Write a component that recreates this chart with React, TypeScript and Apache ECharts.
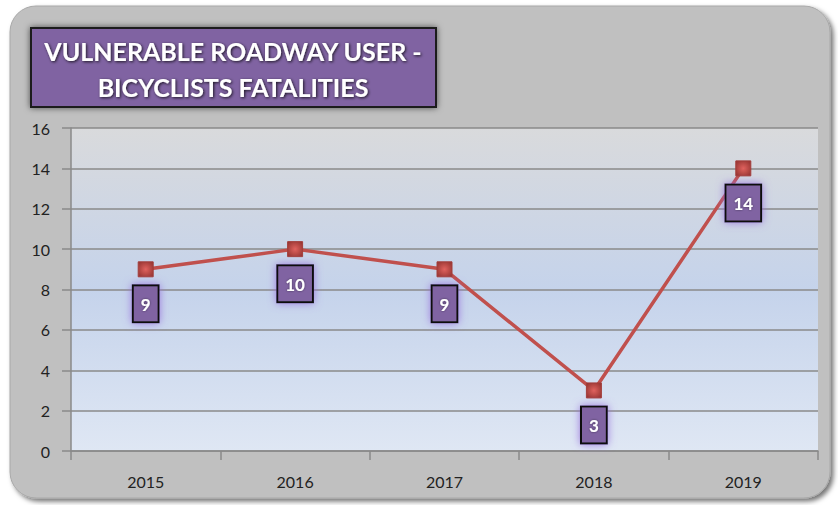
import React, { useEffect, useRef } from "react";
import * as echarts from "echarts";

const categories = ["2015", "2016", "2017", "2018", "2019"];
const fatalities = [9, 10, 9, 3, 14];
const yTicks = { min: 0, max: 16, interval: 2 };
const titleLines = ["VULNERABLE ROADWAY USER -", "BICYCLISTS FATALITIES"];

const FONT = "Lato, 'Noto Sans', sans-serif";

export default function App() {
  const ref = useRef<HTMLDivElement>(null);
  useEffect(() => {
    if (!ref.current) return;
    const chart = echarts.init(ref.current, null, { renderer: "svg" });
    const titleStyle = {
      fill: "#ffffff",
      font: `bold 25px ${FONT}`,
      align: "center",
      verticalAlign: "middle",
      textShadowColor: "rgba(0,0,0,0.8)",
      textShadowBlur: 3,
      textShadowOffsetX: 1,
      textShadowOffsetY: 1,
    };
    chart.setOption({
      animation: false,
      backgroundColor: "#ffffff",
      graphic: [
        {
          type: "rect",
          z: -10,
          shape: { x: 10, y: 6, width: 820, height: 492, r: 26 },
          style: {
            fill: "#c0c0c0",
            stroke: "#a8a8a8",
            lineWidth: 1,
            shadowBlur: 5,
            shadowOffsetX: 3,
            shadowOffsetY: 3,
            shadowColor: "rgba(0,0,0,0.55)",
          },
        },
        {
          type: "rect",
          z: 10,
          shape: { x: 31, y: 28, width: 405, height: 79 },
          style: {
            fill: "#8064a2",
            stroke: "#1a1a1a",
            lineWidth: 2,
            shadowBlur: 6,
            shadowColor: "rgba(0,0,0,0.6)",
          },
        },
        {
          type: "text",
          z: 11,
          x: 233,
          y: 51,
          style: { ...titleStyle, text: titleLines[0] },
        },
        {
          type: "text",
          z: 11,
          x: 233,
          y: 87,
          style: { ...titleStyle, text: titleLines[1] },
        },
      ],
      grid: {
        left: 71,
        right: 20,
        top: 128,
        bottom: 54,
        show: true,
        borderWidth: 0,
        backgroundColor: new echarts.graphic.LinearGradient(0, 0, 0, 1, [
          { offset: 0, color: "#d9dadc" },
          { offset: 0.5, color: "#c5d3eb" },
          { offset: 1, color: "#dfe7f4" },
        ]),
      },
      xAxis: {
        type: "category",
        data: categories,
        boundaryGap: true,
        axisLine: { show: true, lineStyle: { color: "#8a8a8a", width: 1.5 } },
        axisTick: { show: true, length: 9, lineStyle: { color: "#8a8a8a", width: 1.5 } },
        axisLabel: { color: "#222", fontSize: 16, fontFamily: FONT, margin: 22 },
      },
      yAxis: {
        type: "value",
        min: yTicks.min,
        max: yTicks.max,
        interval: yTicks.interval,
        axisLine: { show: true, lineStyle: { color: "#8a8a8a", width: 1.5 } },
        axisTick: { show: true, length: 9, lineStyle: { color: "#8a8a8a", width: 1.5 } },
        axisLabel: { color: "#222", fontSize: 16, fontFamily: FONT, margin: 21 },
        splitLine: { show: true, lineStyle: { color: "#8a8a8a", width: 1.5 } },
      },
      series: [
        {
          type: "line",
          data: fatalities,
          symbol: "rect",
          symbolSize: 15,
          lineStyle: { color: "#c0504d", width: 3.5 },
          itemStyle: {
            color: new echarts.graphic.RadialGradient(0.5, 0.5, 0.7, [
              { offset: 0, color: "#e0625e" },
              { offset: 1, color: "#8f302d" },
            ]),
            borderColor: "#a33e3b",
            borderWidth: 1,
          },
          label: {
            show: true,
            position: "bottom",
            distance: 9,
            color: "#ffffff",
            fontSize: 17,
            fontWeight: "bold",
            fontFamily: FONT,
            lineHeight: 18,
            backgroundColor: "#8064a2",
            borderColor: "#111111",
            borderWidth: 2,
            padding: [9, 7, 8, 7],
            shadowBlur: 8,
            shadowColor: "rgba(150,110,220,0.9)",
            textShadowColor: "rgba(0,0,0,0.5)",
            textShadowBlur: 2,
          },
          z: 5,
        },
      ],
    });
    return () => chart.dispose();
  }, []);
  return (
    <div
      ref={ref}
      style={{ position: "fixed", left: 0, top: 0, width: 838, height: 505 }}
    />
  );
}
